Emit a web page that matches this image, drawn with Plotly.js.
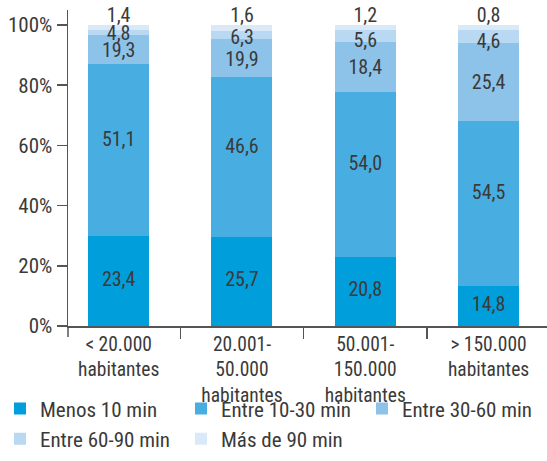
<!DOCTYPE html>
<html><head><meta charset="utf-8">
<script src="https://cdn.plot.ly/plotly-3.0.1.min.js"></script>
<style>html,body{margin:0;padding:0;background:#fff}#chart{width:547px;height:461px}</style>
</head><body><div id="chart"></div>
<script>
// ---- data ----
const categories = ['< 20.000<br>habitantes', '20.001-<br>50.000<br>habitantes', '50.001-<br>150.000<br>habitantes', '> 150.000<br>habitantes'];
const seriesNames = ['Menos 10 min', 'Entre 10-30 min', 'Entre 30-60 min', 'Entre 60-90 min', 'Más de 90 min'];
// segment heights as drawn in the picture (%)
const menos10    = [29.9, 29.6, 23.0, 13.4];
const entre10_30 = [57.1, 53.1, 54.8, 54.7];
const entre30_60 = [9.7, 12.6, 16.6, 25.9];
const entre60_90 = [1.6, 2.6, 3.9, 4.3];
const mas90      = [1.7, 2.1, 1.7, 1.7];
// values printed on the segments
const lblMenos10    = [23.4, 25.7, 20.8, 14.8];
const lblEntre10_30 = [51.1, 46.6, 54.0, 54.5];
const lblEntre30_60 = [19.3, 19.9, 18.4, 25.4];
const lblEntre60_90 = [4.8, 6.3, 5.6, 4.6];
const lblMas90      = [1.4, 1.6, 1.2, 0.8];
// y-axis ticks
const yTickVals = [0, 20, 40, 60, 80, 100];
const yTickText = ['0%', '20%', '40%', '60%', '80%', '100%'];

// ---- styling ----
const FONT = '"Roboto Condensed", Roboto, "Liberation Sans", sans-serif';
const TXT = '#3a3a3a';
const AX = '#555555';
const colors = ['#009EDB', '#48AEE2', '#8DC3E9', '#B9D8F1', '#D9E9F8'];

const heights = [menos10, entre10_30, entre30_60, entre60_90, mas90];
const labels = [lblMenos10, lblEntre10_30, lblEntre30_60, lblEntre60_90, lblMas90];
const fmt = v => v.toFixed(1).replace('.', ',');

const traces = [];
heights.forEach((h, i) => {
  traces.push({
    type: 'bar', x: categories, y: h, name: seriesNames[i],
    marker: {color: colors[i], line: {width: 0}},
    hoverinfo: 'skip'
  });
});

// label positions derived from the stacked segments
const labelY = [];
heights.forEach((h, i) => {
  labelY.push(h.map((v, j) => {
    let base = 0;
    for (let k = 0; k < i; k++) base += heights[k][j];
    if (i === 0) return base + v / 2;
    if (i === 1) return base + v / 2 + 3;
    if (i === 2) return base + v / 2 - 0.8;
    if (i === 3) return base;
    return base + v + 2.6;
  }));
});
labels.forEach((l, i) => {
  traces.push({
    type: 'scatter', mode: 'text', x: categories, y: labelY[i],
    text: l.map(fmt), textposition: 'middle center',
    textfont: {family: FONT, size: 20, color: TXT},
    showlegend: false, hoverinfo: 'skip', cliponaxis: false
  });
});

const layout = {
  width: 547, height: 461,
  margin: {l: 68, r: 0, t: 10, b: 135},
  paper_bgcolor: '#ffffff', plot_bgcolor: '#ffffff',
  barmode: 'stack', bargap: 0.505,
  font: {family: FONT, color: TXT},
  showlegend: true,
  xaxis: {
    type: 'category', range: [-0.411, 3.474],
    showline: true, linecolor: AX, linewidth: 1.5,
    ticks: 'outside', tickson: 'boundaries', ticklen: 11, tickcolor: AX, tickwidth: 1.5,
    tickfont: {family: FONT, size: 19.5, color: TXT},
    showgrid: false, zeroline: false, fixedrange: true
  },
  yaxis: {
    range: [0, 105], tickmode: 'array', tickvals: yTickVals, ticktext: yTickText,
    showline: true, linecolor: AX, linewidth: 1.5,
    ticks: 'outside', ticklen: 10, tickcolor: AX, tickwidth: 1.5,
    tickfont: {family: FONT, size: 21, color: TXT},
    showgrid: false, zeroline: false, fixedrange: true
  },
  legend: {
    orientation: 'h', xref: 'paper', yref: 'paper',
    x: -0.142, y: -0.197, xanchor: 'left', yanchor: 'top',
    bgcolor: 'rgba(0,0,0,0)',
    traceorder: 'normal', entrywidth: 136, itemwidth: 30,
    font: {family: FONT, size: 21, color: TXT}
  },
  shapes: [{
    type: 'line', xref: 'paper', yref: 'paper', x0: 0, x1: 0,
    ysizemode: 'pixel', yanchor: 0, y0: 0, y1: -11,
    line: {color: AX, width: 1.5}
  }]
};

Plotly.newPlot('chart', traces, layout, {displayModeBar: false, staticPlot: true});
</script>
</body></html>
